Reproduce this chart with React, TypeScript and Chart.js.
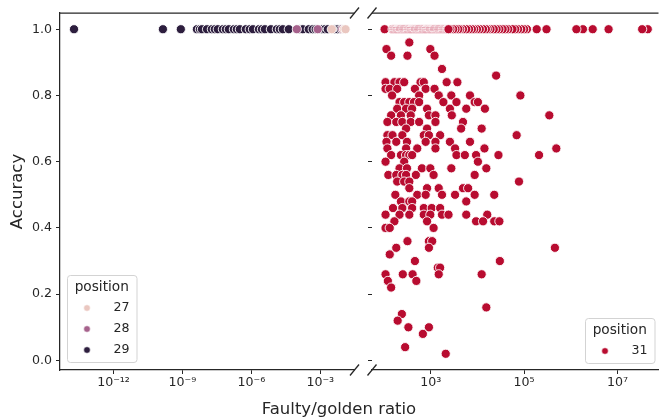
import React, { useEffect, useRef } from 'react';
import { Chart, registerables } from 'chart.js';

Chart.register(...registerables);

const FONT_FAMILY = '"DejaVu Sans", "Liberation Sans", sans-serif';
const INK = '#262626';

// ---------- text ----------
const yAxisTitle = 'Accuracy';
const xAxisTitle = 'Faulty/golden ratio';
const legendTitle = 'position';

// ---------- ticks ----------
const accuracyTicks = [0, 0.2, 0.4, 0.6, 0.8, 1.0];
const accuracyTickLabels = ['0.0', '0.2', '0.4', '0.6', '0.8', '1.0'];
const leftRatioTicks = [1e-12, 1e-9, 1e-6, 1e-3];
const leftRatioTickLabels = ['10⁻¹²', '10⁻⁹', '10⁻⁶', '10⁻³'];
const rightRatioTicks = [1e3, 1e5, 1e7];
const rightRatioTickLabels = ['10³', '10⁵', '10⁷'];

// axis limits (log10 of the ratio for x)
const leftLog10Range = [-14.33, -1.51];
const rightLog10Range = [1.74, 7.88];
const accuracyRange = [-0.029, 1.049];

// ---------- series ----------
const leftPositions = ['27', '28', '29'];
const leftColors = ['#eac7c0', '#a6628c', '#2d1e3e'];
const rightPositions = ['31'];
const rightColors = ['#b80c30'];

// left panel: every point has accuracy 1.0
const LEFT_ACCURACY = 1.0;
const pos27Log10Ratio = [-2.5, -1.97, -1.9];
const pos28Log10Ratio = [-4.02, -3.11, -2.04];
const pos29Log10Ratio = [
  -13.72, -9.85, -9.07, -8.37, -8.24, -8.15, -7.93, -7.72, -7.59, -7.46, -7.24, -7.11,
  -6.98, -6.76, -6.63, -6.5, -6.24, -6.07, -5.93, -5.67, -5.54, -5.41, -5.15, -4.89,
  -4.76, -4.63, -4.37, -3.89, -3.76, -3.5, -3.33, -3.2, -2.93, -2.8, -2.67, -2.37,
  -2.24, -2.11,
];

// right panel, position 31: points with accuracy 1.0
const pos31TopLog10Ratio = [
  7.65, 7.53, 6.81, 6.47, 6.26, 6.12, 5.48, 5.27, 5.06, 5.0, 4.94, 4.87, 4.81, 4.75,
  4.66, 4.6, 4.54, 4.47, 4.41, 4.35, 4.28, 4.22, 4.18, 4.12, 4.05, 3.99, 3.93, 3.88,
  3.82, 3.76, 3.69, 3.63, 3.59, 3.53, 3.48, 3.42, 2.01,
  2.18, 2.2, 2.21, 2.23, 2.25, 2.27, 2.28, 2.3, 2.32, 2.34, 2.35, 2.37, 2.39, 2.41,
  2.42, 2.44, 2.46, 2.48, 2.5, 2.51, 2.53, 2.55, 2.57, 2.58, 2.6, 2.62, 2.64, 2.66,
  2.67, 2.69, 2.71, 2.73, 2.74, 2.76, 2.78, 2.8, 2.82, 2.83, 2.85, 2.87, 2.89, 2.9,
  2.92, 2.94, 2.96, 2.98, 2.99, 3.01, 3.03, 3.05, 3.07, 3.08, 3.1, 3.12, 3.14, 3.16,
  3.17, 3.19, 3.21, 3.23, 3.25, 3.26, 3.28, 3.3, 3.32, 3.34, 3.35, 3.37, 3.38,
];

// right panel, position 31: the remaining points, grouped by accuracy
const pos31RowAccuracy = [
  0.96, 0.94, 0.92, 0.88, 0.86, 0.84, 0.82, 0.8, 0.78, 0.76, 0.74, 0.72, 0.7, 0.68,
  0.66, 0.64, 0.62, 0.6, 0.58, 0.56, 0.54, 0.52, 0.5, 0.48, 0.46, 0.44, 0.42, 0.4,
  0.36, 0.34, 0.32, 0.3, 0.28, 0.26, 0.24, 0.22, 0.16, 0.14, 0.12, 0.1, 0.08, 0.04, 0.02,
];
const pos31RowLog10Ratio = [
  [2.54],
  [2.05, 2.99],
  [2.15, 2.5, 3.08],
  [3.24],
  [4.4],
  [2.03, 2.22, 2.33, 2.43, 2.78, 2.85, 3.34, 3.57],
  [2.03, 2.12, 2.28, 2.66, 2.89, 3.08],
  [2.17, 2.75, 3.17, 3.44, 3.84, 4.92],
  [2.33, 2.43, 2.54, 2.64, 2.75, 3.27, 3.55, 3.94, 4.01],
  [2.28, 2.47, 2.6, 2.92, 3.41, 3.76, 4.16],
  [2.15, 2.36, 2.57, 2.96, 3.1, 3.45, 5.54],
  [2.07, 2.26, 2.39, 2.57, 2.75, 3.1, 3.69],
  [2.47, 2.92, 3.65, 4.09],
  [2.07, 2.18, 2.39, 2.85, 2.96, 3.2, 4.84],
  [2.05, 2.26, 2.49, 2.89, 3.1, 3.41, 3.84],
  [2.07, 2.47, 2.71, 3.1, 3.52, 4.15, 5.69],
  [2.15, 2.36, 2.47, 2.54, 2.6, 3.55, 3.73, 3.97, 4.45, 5.32],
  [2.03, 2.43, 4.01],
  [2.33, 2.49, 2.81, 2.99, 3.44, 4.19],
  [2.09, 2.26, 2.39, 2.47, 2.68, 3.06, 3.94],
  [2.28, 2.43, 2.54, 4.89],
  [2.54, 2.92, 3.17, 3.69, 3.8],
  [2.24, 2.71, 2.89, 3.24, 3.52, 3.94, 4.36],
  [2.36, 2.54, 2.6, 3.76],
  [2.19, 2.39, 2.6, 2.85, 3.02, 3.2],
  [2.03, 2.33, 2.54, 2.85, 2.99, 3.24, 3.38, 3.76, 4.21],
  [2.22, 2.92, 3.97, 4.12, 4.36, 4.47],
  [2.03, 2.12, 3.06],
  [2.5, 2.96, 3.03],
  [2.26, 2.96, 5.66],
  [2.12],
  [2.66, 4.48],
  [3.15, 3.2],
  [2.03, 2.4, 2.61, 3.17, 4.09],
  [2.08, 2.69],
  [2.15],
  [4.19],
  [2.38],
  [2.29],
  [2.52, 2.96],
  [2.83],
  [2.45],
  [3.32],
];

// ---------- helpers ----------
type Pt = { x: number; y: number };
const toPoints = (logs: number[], acc: number): Pt[] => logs.map((l) => ({ x: Math.pow(10, l), y: acc }));

type LegendEntry = { label: string; color: string };

function roundRectPath(ctx: CanvasRenderingContext2D, x: number, y: number, w: number, h: number, r: number) {
  ctx.beginPath();
  ctx.moveTo(x + r, y);
  ctx.lineTo(x + w - r, y);
  ctx.arcTo(x + w, y, x + w, y + r, r);
  ctx.lineTo(x + w, y + h - r);
  ctx.arcTo(x + w, y + h, x + w - r, y + h, r);
  ctx.lineTo(x + r, y + h);
  ctx.arcTo(x, y + h, x, y + h - r, r);
  ctx.lineTo(x, y + r);
  ctx.arcTo(x, y, x + r, y, r);
  ctx.closePath();
}

function makeDecorPlugin(side: 'left' | 'right', entries: LegendEntry[]) {
  return {
    id: 'decor-' + side,
    afterDraw(chart: any) {
      const { ctx, chartArea: a } = chart;
      ctx.save();
      // top spine
      ctx.strokeStyle = INK;
      ctx.lineWidth = 1.25;
      ctx.beginPath();
      ctx.moveTo(a.left, a.top);
      ctx.lineTo(a.right, a.top);
      ctx.stroke();
      // break marks
      const bx = side === 'left' ? a.right : a.left;
      [a.top, a.bottom].forEach((by: number) => {
        ctx.beginPath();
        ctx.moveTo(bx - 4.5, by + 5.5);
        ctx.lineTo(bx + 4.5, by - 5.5);
        ctx.stroke();
      });
      // legend
      const rowH = 21;
      const w = 69.5;
      const h = 24 + rowH * entries.length;
      const left = side === 'left' ? a.left + 7 : a.right - 4 - w;
      const top = a.bottom - (side === 'left' ? 8 : 7) - h;
      roundRectPath(ctx, left + 0.5, top + 0.5, w, h, 3);
      ctx.fillStyle = 'rgba(255,255,255,0.8)';
      ctx.fill();
      ctx.strokeStyle = '#d3d3d3';
      ctx.lineWidth = 1;
      ctx.stroke();
      ctx.fillStyle = INK;
      ctx.textBaseline = 'middle';
      ctx.textAlign = 'center';
      ctx.font = `13.7px ${FONT_FAMILY}`;
      ctx.fillText(legendTitle, left + w / 2, top + 12);
      ctx.font = `12.6px ${FONT_FAMILY}`;
      ctx.textAlign = 'right';
      entries.forEach((e, i) => {
        const y = top + 33 + rowH * i;
        ctx.beginPath();
        ctx.arc(left + 20, y, 3.3, 0, Math.PI * 2);
        ctx.fillStyle = e.color;
        ctx.fill();
        ctx.strokeStyle = '#ffffff';
        ctx.lineWidth = 0.6;
        ctx.stroke();
        ctx.fillStyle = INK;
        ctx.fillText(e.label, left + w - 7, y);
      });
      ctx.restore();
    },
  };
}

function buildOptions(
  side: 'left' | 'right',
  xRange: number[],
  xTicks: number[],
  xLabels: string[],
) {
  const tickFont = { family: FONT_FAMILY, size: 12.6 };
  return {
    responsive: false,
    animation: false,
    events: [],
    layout: { padding: { left: 0, top: 13, right: side === 'left' ? 5 : 0, bottom: 0 } },
    plugins: { legend: { display: false }, tooltip: { enabled: false }, title: { display: false } },
    scales: {
      x: {
        type: 'logarithmic',
        min: Math.pow(10, xRange[0]),
        max: Math.pow(10, xRange[1]),
        bounds: 'data',
        afterBuildTicks: (s: any) => {
          s.ticks = xTicks.map((v) => ({ value: v }));
        },
        afterFit: (s: any) => {
          s.height = 50;
        },
        ticks: {
          autoSkip: false,
          maxRotation: 0,
          minRotation: 0,
          padding: 1,
          color: INK,
          font: tickFont,
          callback: (_v: any, i: number) => xLabels[i],
        },
        grid: { drawOnChartArea: false, drawTicks: true, tickLength: 4, color: INK, tickWidth: 1 },
        border: { display: true, color: INK, width: 1.25 },
      },
      y: {
        type: 'linear',
        min: accuracyRange[0],
        max: accuracyRange[1],
        bounds: 'data',
        afterBuildTicks: (s: any) => {
          s.ticks = accuracyTicks.map((v) => ({ value: v }));
        },
        afterFit: (s: any) => {
          s.width = side === 'left' ? 60 : 16;
        },
        ticks: {
          autoSkip: false,
          padding: 4,
          color: side === 'left' ? INK : 'rgba(0,0,0,0)',
          font: tickFont,
          callback: (_v: any, i: number) => accuracyTickLabels[i],
        },
        grid: { drawOnChartArea: false, drawTicks: true, tickLength: 4, color: INK, tickWidth: 1 },
        border: { display: side === 'left', color: INK, width: 1.25 },
        title:
          side === 'left'
            ? {
                display: true,
                text: yAxisTitle,
                color: INK,
                font: { family: FONT_FAMILY, size: 16.5 },
                padding: { top: 8, bottom: 0 },
              }
            : { display: false },
      },
    },
  };
}

const pointStyle = (color: string) => ({
  backgroundColor: color,
  borderColor: '#ffffff',
  borderWidth: 0.9,
  pointRadius: 4.6,
  pointHoverRadius: 4.6,
  showLine: false,
});

export default function App() {
  const leftRef = useRef<HTMLCanvasElement | null>(null);
  const rightRef = useRef<HTMLCanvasElement | null>(null);

  useEffect(() => {
    if (!leftRef.current || !rightRef.current) return;

    const leftSeries = [pos27Log10Ratio, pos28Log10Ratio, pos29Log10Ratio];
    const leftChart = new Chart(leftRef.current, {
      type: 'scatter',
      data: {
        datasets: leftPositions.map((p, i) => ({
          label: p,
          data: toPoints(leftSeries[i], LEFT_ACCURACY),
          ...pointStyle(leftColors[i]),
        })),
      },
      options: buildOptions('left', leftLog10Range, leftRatioTicks, leftRatioTickLabels) as any,
      plugins: [
        makeDecorPlugin(
          'left',
          leftPositions.map((p, i) => ({ label: p, color: leftColors[i] })),
        ),
      ],
    });

    const pos31Points: Pt[] = [
      ...toPoints(pos31TopLog10Ratio, 1.0),
      ...pos31RowAccuracy.flatMap((acc, r) => toPoints(pos31RowLog10Ratio[r], acc)),
    ];
    const rightChart = new Chart(rightRef.current, {
      type: 'scatter',
      data: {
        datasets: [
          {
            label: rightPositions[0],
            data: pos31Points,
            ...pointStyle(rightColors[0]),
          },
        ],
      },
      options: buildOptions('right', rightLog10Range, rightRatioTicks, rightRatioTickLabels) as any,
      plugins: [
        makeDecorPlugin(
          'right',
          rightPositions.map((p, i) => ({ label: p, color: rightColors[i] })),
        ),
      ],
    });

    return () => {
      leftChart.destroy();
      rightChart.destroy();
    };
  }, []);

  return (
    <div
      style={{
        position: 'absolute',
        left: 0,
        top: 0,
        width: 664,
        height: 420,
        background: '#ffffff',
        overflow: 'hidden',
      }}
    >
      <canvas
        ref={leftRef}
        width={360}
        height={420}
        style={{ position: 'absolute', left: 0, top: 0, width: 360, height: 420, display: 'block' }}
      />
      <canvas
        ref={rightRef}
        width={308}
        height={420}
        style={{ position: 'absolute', left: 356, top: 0, width: 308, height: 420, display: 'block' }}
      />
      <div
        style={{
          position: 'absolute',
          left: 7,
          top: 399,
          width: 664,
          textAlign: 'center',
          fontFamily: FONT_FAMILY,
          fontSize: 16.5,
          lineHeight: '20px',
          color: INK,
          whiteSpace: 'nowrap',
        }}
      >
        {xAxisTitle}
      </div>
    </div>
  );
}
